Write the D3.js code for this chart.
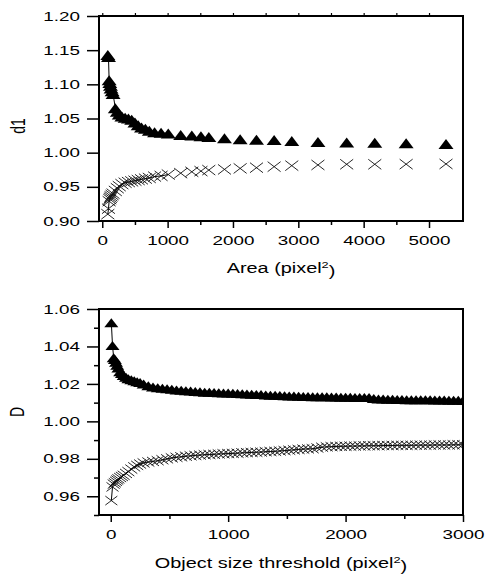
<!DOCTYPE html>
<html>
<head>
<meta charset="utf-8">
<script src="https://cdn.jsdelivr.net/npm/d3@7"></script>
<style>
  body { margin: 0; background: #fff; }
  svg { display: block; }
  text { font-family: "Liberation Sans", Arial, sans-serif; fill: #000; }
</style>
</head>
<body>
<svg id="chart" width="487" height="574"></svg>
<script>
// ---- top panel: d1 vs area ----
const areaX = [85, 95, 105, 115, 125, 135, 150, 165, 200, 230, 260, 300, 350, 400, 450, 500, 550, 600,
  660, 720, 800, 900, 1010, 1200, 1370, 1510, 1630, 1870, 2110, 2360, 2630, 2900, 3300, 3740, 4170, 4650, 5260];
const d1Tri = [1.143, 1.140, 1.106, 1.102, 1.098, 1.094, 1.090, 1.086, 1.065, 1.060, 1.056, 1.053, 1.051, 1.050,
  1.048, 1.044, 1.040, 1.037, 1.035, 1.032, 1.030, 1.029, 1.028, 1.026, 1.025, 1.024, 1.023, 1.021, 1.0195,
  1.019, 1.0185, 1.017, 1.0156, 1.015, 1.0146, 1.0137, 1.0127];
const d1Cross = [0.910, 0.918, 0.929, 0.932, 0.934, 0.936, 0.938, 0.940, 0.944, 0.948, 0.951, 0.954, 0.956, 0.957,
  0.958, 0.959, 0.960, 0.961, 0.962, 0.963, 0.965, 0.966, 0.968, 0.970, 0.972, 0.973, 0.9745, 0.9755, 0.977,
  0.978, 0.9795, 0.981, 0.982, 0.983, 0.983, 0.9832, 0.9835];
const topXTicks = [0, 1000, 2000, 3000, 4000, 5000];
const topXMinor = [500, 1500, 2500, 3500, 4500];
const topYTicks = [0.90, 0.95, 1.00, 1.05, 1.10, 1.15, 1.20];

// ---- bottom panel: D vs object size threshold ----
const sizeX = [5, 15, 25, 35, 45, 55, 65, 80, 95, 110, 130, 150, 175, 200, 225, 250, 280, 320,
  360, 400, 440, 480, 520, 560, 600, 640, 680, 720, 760, 800, 840, 880, 920, 960, 1000,
  1040, 1080, 1120, 1160, 1200, 1240, 1280, 1320, 1360, 1400, 1440, 1480, 1520, 1560, 1600,
  1640, 1680, 1720, 1760, 1800, 1840, 1880, 1920, 1960, 2000, 2040, 2080, 2120, 2160, 2200,
  2240, 2280, 2320, 2360, 2400, 2440, 2480, 2520, 2560, 2600, 2640, 2680, 2720, 2760, 2800,
  2840, 2880, 2920, 2960, 3000];
const dTri = [1.0527, 1.0405, 1.0340, 1.0330, 1.0315, 1.0300, 1.0285, 1.0265, 1.0255, 1.0245, 1.0235, 1.0228,
  1.0222, 1.0217, 1.0212, 1.0207, 1.0200, 1.0190,
  1.0183, 1.0180, 1.0177, 1.0174, 1.0171, 1.0168, 1.0166, 1.0164, 1.0162, 1.0160, 1.0158, 1.0156, 1.0155,
  1.0154, 1.0153, 1.0152, 1.0151,
  1.0150, 1.0149, 1.0148, 1.0146, 1.0145, 1.0144, 1.0143, 1.0141, 1.0140, 1.0139, 1.0138, 1.0137, 1.0136,
  1.0135, 1.0134,
  1.0133, 1.0133, 1.0132, 1.0132, 1.0131, 1.0131, 1.0130, 1.0130, 1.0129, 1.0129, 1.0129, 1.0128, 1.0128,
  1.0128, 1.0127,
  1.0122, 1.0120, 1.0119, 1.0118, 1.0118, 1.0117, 1.0117, 1.0116, 1.0116, 1.0116, 1.0115, 1.0115, 1.0115,
  1.0114, 1.0114, 1.0114, 1.0113, 1.0113, 1.0113, 1.0112];
const dCross = [0.9577, 0.9650, 0.9665, 0.9672, 0.9680, 0.9687, 0.9693, 0.9700, 0.9706, 0.9712, 0.9722, 0.9732,
  0.9745, 0.9757, 0.9765, 0.9772, 0.9778, 0.9783,
  0.9786, 0.9790, 0.9795, 0.9800, 0.9805, 0.9808, 0.9811, 0.9814, 0.9816, 0.9818, 0.9820, 0.9822, 0.9823,
  0.9824, 0.9826, 0.9827, 0.9828,
  0.9829, 0.9830, 0.9832, 0.9833, 0.9834, 0.9835, 0.9836, 0.9838, 0.9839, 0.9840, 0.9842, 0.9844, 0.9846,
  0.9848, 0.9850,
  0.9852, 0.9853, 0.9854, 0.9858, 0.9862, 0.9864, 0.9865, 0.9866, 0.9867, 0.9867, 0.9868, 0.9868, 0.9869,
  0.9869, 0.9870,
  0.9870, 0.9870, 0.9871, 0.9871, 0.9871, 0.9872, 0.9872, 0.9872, 0.9872, 0.9873, 0.9873, 0.9873, 0.9873,
  0.9874, 0.9874, 0.9874, 0.9874, 0.9875, 0.9875, 0.9875];
const botXTicks = [0, 1000, 2000, 3000];
const botXMinor = [500, 1500, 2500];
const botYTicks = [0.96, 0.98, 1.00, 1.02, 1.04, 1.06];
const botYMinor = [0.95, 0.97, 0.99, 1.01, 1.03, 1.05];

const SX = 1.45; // the original figure is stretched sideways

const svg = d3.select('#chart');

function drawPanel(cfg) {
  const x = d3.scaleLinear().domain(cfg.xDomain).range([cfg.left, cfg.right]);
  const y = d3.scaleLinear().domain(cfg.yDomain).range([cfg.bottom, cfg.top]);
  const g = svg.append('g');

  const clipId = 'clip-' + cfg.id;
  svg.append('clipPath').attr('id', clipId)
    .append('rect')
      .attr('x', cfg.left).attr('y', cfg.top)
      .attr('width', cfg.right - cfg.left).attr('height', cfg.bottom - cfg.top);

  const plot = g.append('g').attr('clip-path', `url(#${clipId})`);

  const line = d3.line().x(d => x(d[0])).y(d => y(d[1]));
  const triPts = cfg.xs.map((v, i) => [v, cfg.tri[i]]);
  const crossPts = cfg.xs.map((v, i) => [v, cfg.cross[i]]);

  // connecting line only shows where the points are dense
  [triPts, crossPts].forEach(pts => {
    plot.append('path').datum(pts.filter(d => d[0] <= cfg.lineUpTo))
      .attr('d', line)
      .attr('fill', 'none')
      .attr('stroke', '#000')
      .attr('stroke-width', 1);
  });

  const tw = cfg.triW, th = cfg.triH;
  plot.selectAll('path.tri').data(triPts).enter().append('path')
    .attr('class', 'tri')
    .attr('d', `M0,${-th / 2}L${tw / 2},${th / 2}L${-tw / 2},${th / 2}Z`)
    .attr('transform', d => `translate(${x(d[0])},${y(d[1])})`)
    .attr('fill', '#000');

  const cw = cfg.crossW, ch = cfg.crossH;
  plot.selectAll('path.cross').data(crossPts).enter().append('path')
    .attr('class', 'cross')
    .attr('d', `M${-cw / 2},${-ch / 2}L${cw / 2},${ch / 2}M${cw / 2},${-ch / 2}L${-cw / 2},${ch / 2}`)
    .attr('transform', d => `translate(${x(d[0])},${y(d[1])})`)
    .attr('fill', 'none')
    .attr('stroke', '#111')
    .attr('stroke-width', 0.9);

  // axes
  const xAxis = g.append('g')
    .attr('transform', `translate(0,${cfg.bottom})`)
    .call(d3.axisBottom(x).tickValues(cfg.xTicks).tickSize(7).tickPadding(8).tickFormat(d3.format('d')));
  xAxis.select('.domain').remove();
  xAxis.selectAll('line').attr('stroke-width', 1.5);
  xAxis.attr('font-size', 13).attr('font-family', null);
  xAxis.selectAll('text').attr('transform', `scale(${SX},1)`);

  g.append('g')
    .attr('transform', `translate(0,${cfg.bottom})`)
    .call(d3.axisBottom(x).tickValues(cfg.xMinor).tickSize(4).tickFormat(''))
    .call(a => a.select('.domain').remove())
    .selectAll('line').attr('stroke-width', 1.5);

  const yAxis = g.append('g')
    .attr('transform', `translate(${cfg.left},0)`)
    .call(d3.axisLeft(y).tickValues(cfg.yTicks).tickSize(12).tickPadding(7).tickFormat(d3.format('.2f')));
  yAxis.select('.domain').remove();
  yAxis.selectAll('line').attr('stroke-width', 1.5);
  yAxis.attr('font-size', 13).attr('font-family', null);
  yAxis.selectAll('text').attr('x', -19 / SX).attr('transform', `scale(${SX},1)`);

  if (cfg.yMinor) {
    g.append('g')
      .attr('transform', `translate(${cfg.left},0)`)
      .call(d3.axisLeft(y).tickValues(cfg.yMinor).tickSize(5).tickFormat(''))
      .call(a => a.select('.domain').remove())
      .selectAll('line').attr('stroke-width', 1.5);
  }

  if (cfg.topTicks) {
    g.append('g')
      .attr('transform', `translate(0,${cfg.top})`)
      .call(d3.axisTop(x).tickValues(cfg.xTicks.concat(cfg.xMinor)).tickSize(3).tickFormat(''))
      .call(a => a.select('.domain').remove())
      .selectAll('line').attr('stroke-width', 1.2);
  }

  // frame
  g.append('rect')
    .attr('x', cfg.left).attr('y', cfg.top)
    .attr('width', cfg.right - cfg.left).attr('height', cfg.bottom - cfg.top)
    .attr('fill', 'none')
    .attr('stroke', '#000')
    .attr('stroke-width', 2);

  // titles
  const xt = g.append('text')
    .attr('transform', `translate(${(cfg.left + cfg.right) / 2},${cfg.xTitleY}) scale(1.42,1)`)
    .attr('text-anchor', 'middle')
    .attr('dy', '0.35em')
    .attr('font-size', 14);
  xt.append('tspan').text(cfg.xTitle + ' (pixel');
  xt.append('tspan').attr('font-size', 9).attr('dy', '-0.6em').text('2');
  xt.append('tspan').attr('dy', '0.6em').text(')');

  g.append('text')
    .attr('transform', `translate(${cfg.yTitleX},${cfg.yTitleY}) scale(1.42,1) rotate(-90)`)
    .attr('text-anchor', 'middle')
    .attr('dy', '0.35em')
    .attr('font-size', 14)
    .text(cfg.yTitle);
}

drawPanel({
  id: 'top', left: 99, right: 463, top: 16, bottom: 221,
  xDomain: [-50, 5520], yDomain: [0.90, 1.20],
  xs: areaX, tri: d1Tri, cross: d1Cross,
  xTicks: topXTicks, xMinor: topXMinor, yTicks: topYTicks,
  triW: 15, triH: 10, crossW: 13, crossH: 10,
  topTicks: true, lineUpTo: 1100,
  xTitle: 'Area', xTitleY: 268,
  yTitle: 'd1', yTitleX: 18, yTitleY: 126
});

drawPanel({
  id: 'bot', left: 99, right: 463, top: 309, bottom: 515,
  xDomain: [-100, 3000], yDomain: [0.95, 1.06],
  xs: sizeX, tri: dTri, cross: dCross,
  xTicks: botXTicks, xMinor: botXMinor, yTicks: botYTicks, yMinor: botYMinor,
  triW: 14, triH: 9, crossW: 12, crossH: 9,
  topTicks: false, lineUpTo: 3000,
  xTitle: 'Object size threshold', xTitleY: 563,
  yTitle: 'D', yTitleX: 17, yTitleY: 412
});
</script>
</body>
</html>
